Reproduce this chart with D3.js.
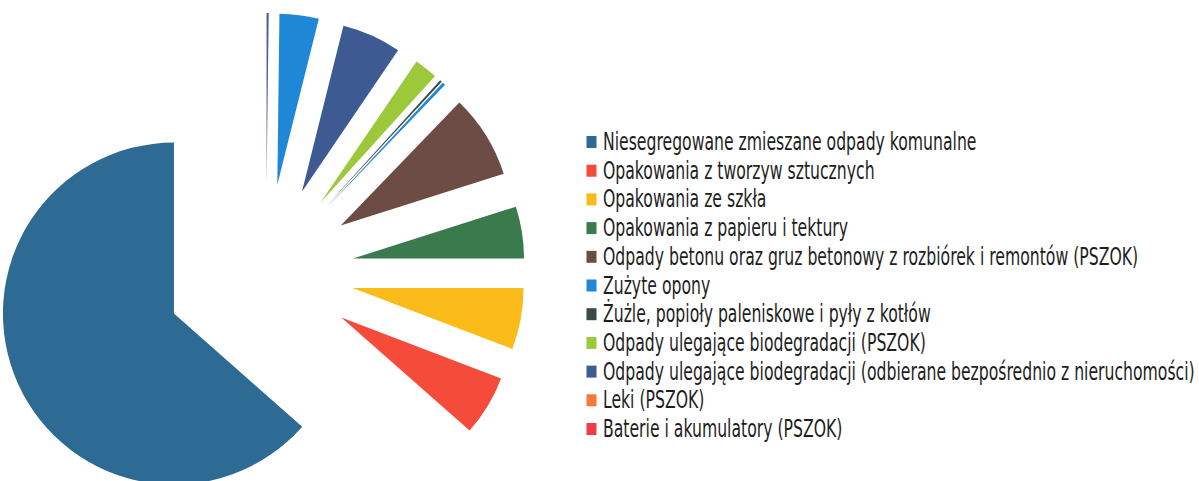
<!DOCTYPE html>
<html>
<head>
<meta charset="utf-8">
<script src="https://cdn.jsdelivr.net/npm/d3@7"></script>
<style>
  html, body { margin: 0; padding: 0; background: #ffffff; }
  svg { display: block; }
</style>
</head>
<body>
<svg id="chart" width="1199" height="481"></svg>
<script>
const categories = [
  'Niesegregowane zmieszane odpady komunalne',
  'Opakowania z tworzyw sztucznych',
  'Opakowania ze szkła',
  'Opakowania z papieru i tektury',
  'Odpady betonu oraz gruz betonowy z rozbiórek i remontów (PSZOK)',
  'Zużyte opony',
  'Żużle, popioły paleniskowe i pyły z kotłów',
  'Odpady ulegające biodegradacji (PSZOK)',
  'Odpady ulegające biodegradacji (odbierane bezpośrednio z nieruchomości)',
  'Leki (PSZOK)',
  'Baterie i akumulatory (PSZOK)'
];
const shares = [63.5, 5.7, 5.8, 4.9, 7.9, 0.3, 0.2, 2.2, 5.6, 3.7, 0.2];
const sliceColors  = ['#2d6a94', '#f44b3a', '#fbbb18', '#3b7a4c', '#6c4c44', '#1e88d6', '#3a4a46', '#9bc93a', '#3d5a92', '#1e88d6', '#4a5a9a'];
const legendColors = ['#2d6a94', '#f44b3a', '#fbbb18', '#3b7a4c', '#6c4c44', '#1e88d6', '#3a4a46', '#9bc93a', '#3d5a92', '#f5793a', '#ee3e44'];

const svg = d3.select('#chart');

const center = { x: 266, y: 272 };      // pie centre before the slices are pulled out
const radius = 171;
const explode = 88;                     // distance every small slice is pulled out
const explodeFirst = 101;               // the big slice is pulled a bit further

const pie = d3.pie()
  .sort(null)
  .startAngle(0)
  .endAngle(-2 * Math.PI)               // slices run counter-clockwise from 12 o'clock
  .value(d => d);

const arc = d3.arc().innerRadius(0).outerRadius(radius);

const arcs = pie(shares);

svg.append('g')
  .attr('class', 'slices')
  .attr('transform', `translate(${center.x},${center.y})`)
  .selectAll('path')
  .data(arcs)
  .enter()
  .append('path')
  .attr('d', arc)
  .attr('fill', (d, i) => sliceColors[i])
  .attr('transform', (d, i) => {        // push each slice out along its bisector
    const mid = (d.startAngle + d.endAngle) / 2;
    const off = i === 0 ? explodeFirst : explode;
    return `translate(${off * Math.sin(mid)},${-off * Math.cos(mid)})`;
  });

// legend
const legendX = 586.5;
const legendTop = 150;                  // baseline of the first row
const rowStep = 28.7;
const firstWidth = 379;                 // width of the first label in the picture
const longestWidth = 592;               // width of the 9th (longest) label

const legend = svg.append('g').attr('class', 'legend');

const rows = legend.selectAll('g')
  .data(categories)
  .enter()
  .append('g')
  .attr('transform', (d, i) => `translate(${legendX},${legendTop + i * rowStep})`);

rows.append('rect')
  .attr('x', 0)
  .attr('y', -14)
  .attr('width', 10)
  .attr('height', 12)
  .attr('fill', (d, i) => legendColors[i]);

const labels = rows.append('text')
  .attr('x', 0)
  .attr('y', 0)
  .attr('fill', '#1e1e1e')
  .style('font-family', '"Liberation Sans Narrow", "DejaVu Sans Condensed", "Liberation Sans", sans-serif')
  .style('font-size', '25px')
  .text(d => d);

// the scan uses a very condensed face, so squeeze all labels by one common factor
const nodes = labels.nodes();
const squeeze = Math.min(firstWidth / nodes[0].getComputedTextLength(),
                         longestWidth / nodes[8].getComputedTextLength());
labels.attr('transform', `translate(16.5,0) scale(${squeeze},1)`);
</script>
</body>
</html>
